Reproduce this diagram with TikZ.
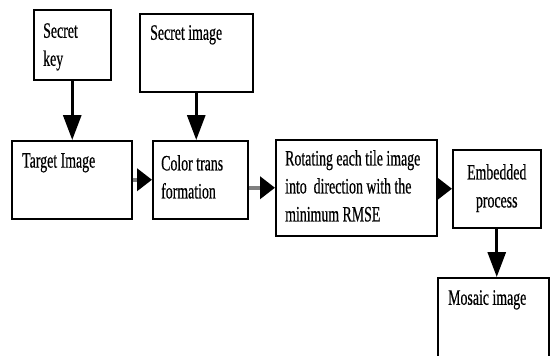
\documentclass[tikz,border=0pt]{standalone}
\usepackage{fontspec}
\setmainfont{Liberation Serif}[FakeStretch=0.63, FakeBold=0.4]
\usetikzlibrary{arrows.meta}
\usetikzlibrary{positioning}

\tikzset{
    blk/.style={draw, line width=1.5pt, inner sep=0pt, anchor=north west},
    txt/.style={inner sep=0pt, align=left, font=\fontsize{22}{28}\selectfont},
    vflow/.style={line width=3pt, -{Triangle[length=25pt, width=18pt]}},
    hflow/.style={line width=4pt, draw=black!50, -{Triangle[black, length=15pt, width=22pt]}}
}

\begin{document}
\begin{tikzpicture}[x=1pt, y=-1pt]

    \useasboundingbox (0,0) rectangle (552,356);

    \node[blk, minimum width=77, minimum height=70] (key) at (33,9) {};
    \node[blk, minimum width=113, minimum height=78] (simg) at (139,13) {};
    \node[blk, minimum width=120, minimum height=78] (target) at (11,140) {};
    \node[blk, minimum width=95, minimum height=78] (color) at (152,140) {};
    \node[blk, minimum width=161, minimum height=96] (rot) at (275,139) {};
    \node[blk, minimum width=88, minimum height=78] (emb) at (452,149) {};
    \node[blk, minimum width=111, minimum height=90] (mosaic) at (437,277) {};

    \node[txt, below right=14pt and 10pt of key.north west] (keytxt) {Secret\\key};
    \node[txt, below right=12pt and 11pt of simg.north west] (simgtxt) {Secret image};
    \node[txt, below right=13pt and 11pt of target.north west] (targettxt) {Target Image};
    \node[txt, below right=15pt and 9pt of color.north west] (colortxt) {Color trans\\formation};
    \node[txt, below right=11pt and 10pt of rot.north west] (rottxt) {Rotating each tile image\\into\ \ direction with the\\minimum RMSE};
    \node[txt, align=center, below=15pt of emb.north] (embtxt) {Embedded\\process};
    \node[txt, below right=13pt and 11pt of mosaic.north west] (mosaictxt) {Mosaic image};

    \draw[vflow] (key.south) -- (key.south |- target.north);
    \draw[vflow] (simg.south) -- (simg.south |- color.north);
    \draw[vflow] (emb.south) -- (emb.south |- mosaic.north);

    \draw[hflow] (target.east) -- (target.east -| color.west);
    \draw[hflow] (color.east |- rot.west) -- (rot.west);
    \draw[hflow] (rot.east |- emb.west) -- (emb.west);

\end{tikzpicture}
\end{document}
